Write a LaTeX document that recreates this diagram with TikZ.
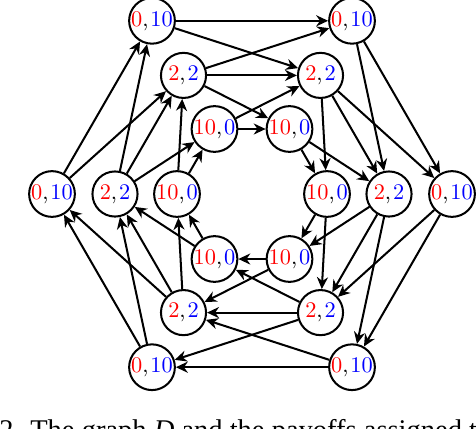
\documentclass[tikz,border=0pt]{standalone}
\usepackage{fontspec}
\usetikzlibrary{arrows.meta}
\newfontfamily\capfont{Liberation Serif}
\newcommand\payoff[2]{\textcolor{red}{#1},\kern0.9pt\textcolor{blue}{#2}}
\tikzset{
  vtx/.style={circle, draw, line width=0.95pt, minimum size=21.2pt, inner sep=0pt, fill=white, font=\fontsize{10.5}{12}\selectfont},
  arr/.style={line width=0.95pt, -{Stealth[length=5.6pt,width=5.2pt,inset=1.8pt]}},
  captxt/.style={anchor=base west, inner sep=0pt, font=\capfont\fontsize{13.4}{16}\selectfont},
}
\begin{document}
\begin{tikzpicture}[x=0.47pt,y=-0.47pt]
\useasboundingbox (0,0) rectangle (476,428);
\clip (0,0) rectangle (476,428);
% outer hexagon
\node[vtx] (o1) at (152,20.8) {\payoff{0}{10}};
\node[vtx] (o2) at (352,20.8) {\payoff{0}{10}};
\node[vtx] (o3) at (452,194) {\payoff{0}{10}};
\node[vtx] (o4) at (352,367.2) {\payoff{0}{10}};
\node[vtx] (o5) at (152,367.2) {\payoff{0}{10}};
\node[vtx] (o6) at (52,194) {\payoff{0}{10}};
% middle hexagon
\node[vtx] (m1) at (183.5,75.4) {\payoff{2}{2}};
\node[vtx] (m2) at (320.5,75.4) {\payoff{2}{2}};
\node[vtx] (m3) at (389,194) {\payoff{2}{2}};
\node[vtx] (m4) at (320.5,312.6) {\payoff{2}{2}};
\node[vtx] (m5) at (183.5,312.6) {\payoff{2}{2}};
\node[vtx] (m6) at (115,194) {\payoff{2}{2}};
% inner hexagon
\node[vtx] (i1) at (214.5,129) {\payoff{10}{0}};
\node[vtx] (i2) at (289.5,129) {\payoff{10}{0}};
\node[vtx] (i3) at (327,194) {\payoff{10}{0}};
\node[vtx] (i4) at (289.5,259) {\payoff{10}{0}};
\node[vtx] (i5) at (214.5,259) {\payoff{10}{0}};
\node[vtx] (i6) at (177,194) {\payoff{10}{0}};
% edges
\foreach \a/\b in {1/2,2/3,3/4,4/5,5/6,6/1} {
  \draw[arr] (o\a) -- (o\b);
  \draw[arr] (o\a) -- (m\b);
  \draw[arr] (m\a) -- (o\b);
  \draw[arr] (m\a) -- (m\b);
  \draw[arr] (m\a) -- (i\b);
  \draw[arr] (i\a) -- (m\b);
  \draw[arr] (i\a) -- (i\b);
}
% caption (cut off by the frame)
\node[captxt] (cap) at (-1,439.5) {2. The graph \textit{D} and the payoffs assigned to};
\end{tikzpicture}
\end{document}
